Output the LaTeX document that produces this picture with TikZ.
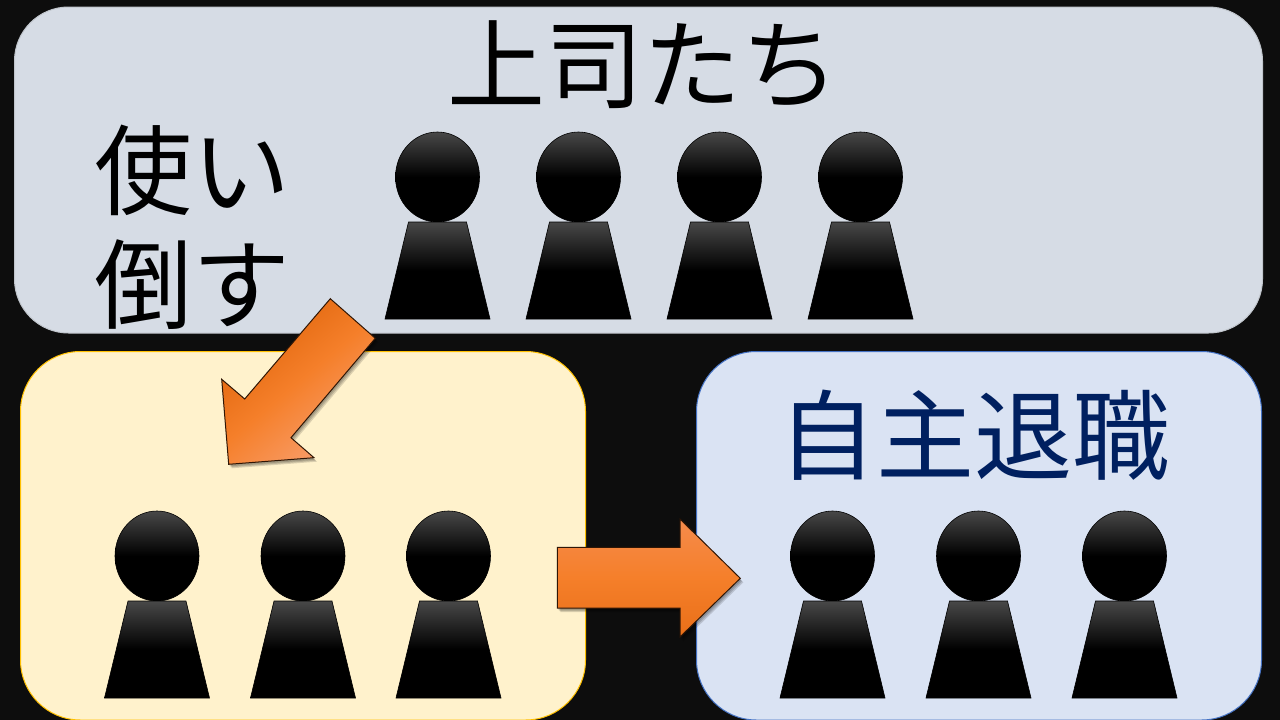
\documentclass[tikz,border=0pt]{standalone}
\usepackage{fontspec}
\setmainfont{Noto Sans CJK JP}
\usetikzlibrary{shadows}
\definecolor{bgc}{HTML}{0D0D0D}
\definecolor{topfill}{HTML}{D6DCE5}
\definecolor{yelfill}{HTML}{FFF2CC}
\definecolor{bluefill}{HTML}{DAE3F3}
\definecolor{yelline}{HTML}{FFC000}
\definecolor{blueline}{HTML}{4472C4}
\definecolor{navyc}{HTML}{002060}
\definecolor{headtop}{HTML}{484848}
\definecolor{arrlight}{HTML}{F58B4C}
\definecolor{arrmid}{HTML}{F57F2A}
\definecolor{arrdark}{HTML}{E96F18}
\definecolor{diaglight}{HTML}{F9A070}
\definecolor{diagdark}{HTML}{DD6208}
\tikzset{
  panel/.style={line width=1pt},
  big/.style={font=\fontsize{98}{98}\selectfont,inner sep=0pt,anchor=center},
  partshade/.style={top color=headtop,bottom color=black,middle color=black,draw=black,line width=0.6pt},
  softshadow/.style={fill=black,opacity=0.14},
  arrowshape/.style={draw=black!80!arrdark,line width=1pt},
  pics/person/.style={code={
    \path[partshade] (0,45) ellipse [x radius=42,y radius=45];
    \path[partshade] (-29,90) -- (29,90) -- (52.5,187) -- (-52.5,187) -- cycle;
  }}
}
\begin{document}
\begin{tikzpicture}[x=1pt,y=-1pt]
\useasboundingbox (0,0) rectangle (1280,720);
\fill[bgc] (0,0) rectangle (1280,720);
% panels
\draw[panel,fill=topfill,draw=topfill!75!gray,rounded corners=54pt] (14.5,7) rectangle (1262.5,333);
\draw[panel,fill=yelfill,draw=yelline,rounded corners=60pt] (20.5,351.5) rectangle (585.5,720);
\draw[panel,fill=bluefill,draw=blueline,rounded corners=60pt] (696.5,351.5) rectangle (1261.5,720);
% texts
\node[big] (title) at (643.5,65) {上司たち};
\node[big] (use1) at (192.5,170) {使い};
\node[big] (use2) at (192.5,285) {倒す};
\node[big,text=navyc] (quit) at (974,435) {自主退職};
% people
\foreach \n/\x in {a/437.5,b/578.5,c/719.5,d/860.5} \pic (top\n) at (\x,132) {person};
\foreach \n/\x in {a/157,b/303,c/448.5} \pic (left\n) at (\x,511) {person};
\foreach \n/\x in {a/832.5,b/978.5,c/1124.5} \pic (right\n) at (\x,511) {person};
% arrow shadows
\foreach \d in {1,2,3}{
  \fill[softshadow,shift={(\d,1+\d)}]
    (330.3,298.7) -- (375.3,338.3) -- (291,437.7) -- (314,457.7) -- (228.7,464.3) -- (221.7,379.3) -- (244.7,399) -- cycle;
  \fill[softshadow,shift={(\d,1+\d)}]
    (557.3,547.3) -- (680,547.3) -- (680,519) -- (740.3,578.3) -- (680,637) -- (680,608) -- (557.3,608) -- cycle;
}
% arrows
\path[arrowshape,top color=diagdark,bottom color=diaglight,middle color=arrmid,shading angle=40]
  (330.3,298.7) -- (375.3,338.3) -- (291,437.7) -- (314,457.7) -- (228.7,464.3) -- (221.7,379.3) -- (244.7,399) -- cycle;
\path[arrowshape,top color=arrlight,bottom color=arrdark,middle color=arrmid]
  (557.3,547.3) -- (680,547.3) -- (680,519) -- (740.3,578.3) -- (680,637) -- (680,608) -- (557.3,608) -- cycle;
\end{tikzpicture}
\end{document}
